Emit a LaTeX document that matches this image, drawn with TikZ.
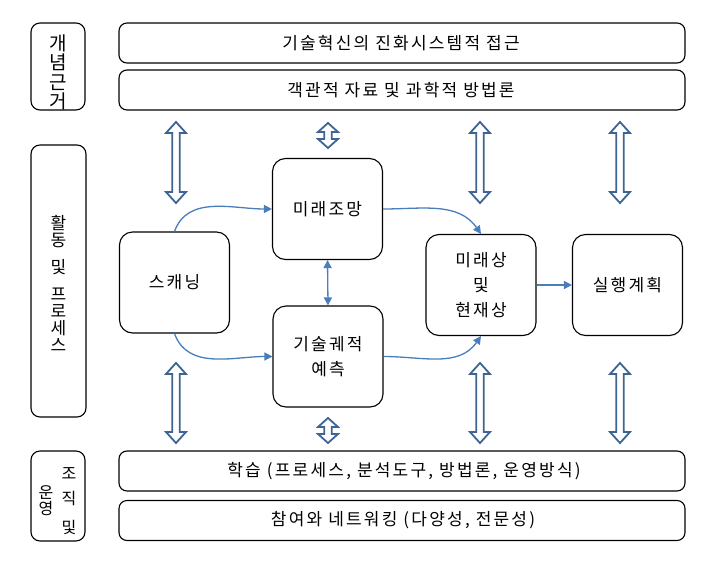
\documentclass[tikz,border=0pt]{standalone}
\usepackage{fontspec}
\setmainfont{Noto Sans CJK KR}
\newfontfamily\spfont[LetterSpace=13]{Noto Sans CJK KR}
\usetikzlibrary{arrows.meta,calc}
\definecolor{flowblue}{HTML}{4A7EBB}
\definecolor{dblue}{HTML}{3E6592}
\newcommand\blockarr[3]{%
 \draw[barrow] (#1) -- ($(#1)+(10,-#3)$) -- ($(#1)+(3.8,-#3)$) -- ($(#2)+(3.8,#3)$) -- ($(#2)+(10,#3)$) -- (#2) -- ($(#2)+(-10,#3)$) -- ($(#2)+(-3.8,#3)$) -- ($(#1)+(-3.8,-#3)$) -- ($(#1)+(-10,-#3)$) -- cycle;}
\tikzset{
 box/.style={draw, line width=1.1pt, rounded corners=9pt, inner sep=0pt, align=center},
 wbox/.style={box, rounded corners=8pt, minimum width=566pt, minimum height=40pt},
 sbox/.style={box, rounded corners=13pt, minimum width=110pt, minimum height=101pt},
 txt/.style={font=\spfont\fontsize{17}{25}\selectfont, align=center, inner sep=0pt},
 vtxt/.style={font=\fontsize{19}{19.5}\selectfont, align=center, inner sep=0pt},
 flow/.style={draw=flowblue, line width=1.3pt, -{Triangle[length=8pt,width=8pt]}},
 barrow/.style={draw=dblue, line width=1.8pt, fill=white, line join=miter},
}
\begin{document}
\begin{tikzpicture}[x=1pt,y=1pt]
\useasboundingbox (0,0) rectangle (709,-562);
\fill[white] (0,0) rectangle (709,-562);
% left label boxes
\node[box, minimum width=54pt, minimum height=87pt] (L1) at (58,-66.5) {};
\node[vtxt] (L1t) at (58,-72.5) {개\\념\\근\\거};
\node[box, minimum width=55pt, minimum height=272pt] (L2) at (58.5,-281) {};
\node[vtxt, font=\fontsize{17}{17}\selectfont] (L2t) at (58.5,-283) {활\\동\\[10pt]및\\[10pt]프\\로\\세\\스};
\node[box, minimum width=54pt, minimum height=90pt] (L3) at (58,-496) {};
\node[vtxt, font=\fontsize{16}{24.5}\selectfont] (L3r) at (69,-501.5) {조\\직\\[5pt]및};
\node[vtxt, font=\fontsize{16}{16}\selectfont] (L3l) at (46,-500.5) {운\\영};
% wide boxes
\node[wbox] (T1) at (402,-43) {};
\node[txt] (T1t) at (401,-43) {기술혁신의 진화시스템적 접근};
\node[wbox] (T2) at (402,-90) {};
\node[txt] (T2t) at (401,-90) {객관적 자료 및 과학적 방법론};
\node[wbox] (B1) at (402,-471) {};
\node[txt] (B1t) at (404,-471) {학습 (프로세스, 분석도구, 방법론, 운영방식)};
\node[wbox] (B2) at (402,-520.5) {};
\node[txt] (B2t) at (403,-520.5) {참여와 네트워킹 (다양성, 전문성)};
% process boxes
\node[sbox, txt, draw] (sc) at (174.5,-282.5) {스캐닝};
\node[sbox, txt, draw] (mj) at (327.5,-209) {미래조망};
\node[sbox, txt, draw] (gt) at (328,-356.5) {기술궤적\\예측};
\node[sbox, txt, draw] (ms) at (481,-285) {미래상\\및\\현재상};
\node[sbox, txt, draw] (sh) at (627.5,-285) {실행계획};
% flows
\draw[flow] (sc.north) to[out=70,in=180] (mj.west);
\draw[flow] (sc.south) to[out=-70,in=180] (gt.west);
\draw[flow] (mj.east) to[out=0,in=125] (ms.north);
\draw[flow] (gt.east) to[out=0,in=-125] (ms.south);
\draw[flow] (ms.east) -- (sh.west);
\draw[flow, {Triangle[length=8pt,width=8pt]}-{Triangle[length=8pt,width=8pt]}] (mj.south) -- (gt.north);
% block double arrows
\coordinate (a1t) at (176,-122); \coordinate (a1b) at (176,-203);
\coordinate (a2t) at (328,-123); \coordinate (a2b) at (328,-148);
\coordinate (a3t) at (480,-122); \coordinate (a3b) at (480,-203);
\coordinate (a4t) at (620,-122); \coordinate (a4b) at (620,-203);
\coordinate (b1t) at (176,-363); \coordinate (b1b) at (176,-443);
\coordinate (b2t) at (328,-418); \coordinate (b2b) at (328,-443);
\coordinate (b3t) at (480,-363); \coordinate (b3b) at (480,-443);
\coordinate (b4t) at (620,-363); \coordinate (b4b) at (620,-443);
\blockarr{a1t}{a1b}{11}
\blockarr{a2t}{a2b}{9}
\blockarr{a3t}{a3b}{11}
\blockarr{a4t}{a4b}{11}
\blockarr{b1t}{b1b}{11}
\blockarr{b2t}{b2b}{9}
\blockarr{b3t}{b3b}{11}
\blockarr{b4t}{b4b}{11}
\end{tikzpicture}
\end{document}
